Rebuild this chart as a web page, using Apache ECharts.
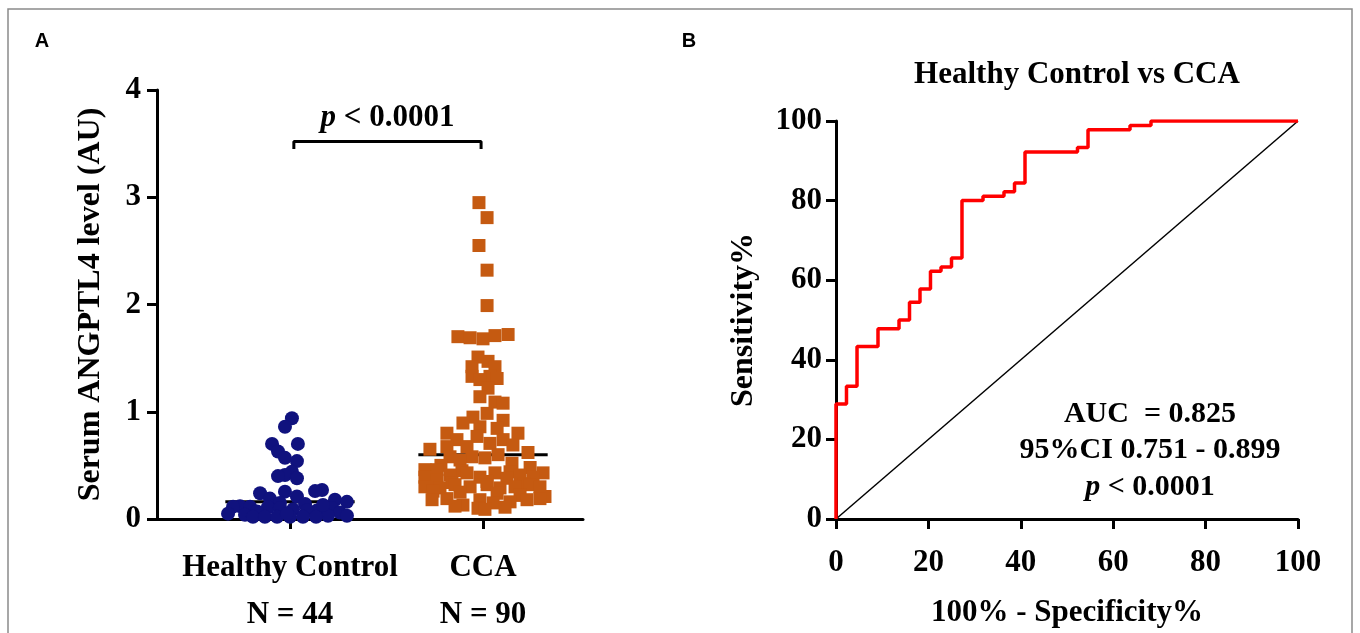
<!DOCTYPE html>
<html><head><meta charset="utf-8">
<script src="https://cdn.jsdelivr.net/npm/echarts@6/dist/echarts.min.js"></script>
<style>html,body{margin:0;padding:0;background:#fff}#c{width:1360px;height:633px}</style>
</head><body><div id="c"></div>
<script>
// ---------- Panel A data ----------
const groups = ['Healthy Control', 'CCA'];
const groupN = [44, 90];
const groupPos = [1, 2];
const hcValues = [0.94,0.86,0.70,0.70,0.63,0.57,0.54,0.44,0.41,0.40,0.38,0.27,0.26,0.255,0.24,0.21,0.19,0.18,0.16,0.15,0.14,0.12,0.115,0.115,0.11,0.10,0.10,0.09,0.08,0.08,0.07,0.06,0.05,0.04,0.03,0.03,0.02,0.02,0.02,0.02,0.02,0.02,0.13,0.05];
const hcOffsets = [0.01,-0.026,-0.093,0.041,-0.062,-0.026,0.036,0.01,-0.026,-0.062,0.036,0.166,0.13,-0.026,-0.155,0.036,-0.104,0.233,0.295,-0.052,0.078,-0.259,-0.295,-0.207,-0.114,0.218,-0.052,0.016,0.14,0.088,-0.171,0.259,-0.321,-0.233,0.295,0.197,-0.192,-0.13,-0.067,0,0.067,0.135,0.171,-0.016];
const ccaValues = [2.95,2.81,2.55,2.32,1.99,1.70,1.69,1.68,1.71,1.72,1.51,1.47,1.42,1.42,1.33,1.33,1.31,1.30,1.22,1.14,1.09,1.08,0.985,0.95,0.92,0.895,0.86,0.845,0.80,0.80,0.77,0.74,0.74,0.705,0.69,0.675,0.675,0.65,0.62,0.60,0.58,0.58,0.57,0.55,0.52,0.50,0.48,0.46,0.46,0.45,0.44,0.43,0.43,0.43,0.41,0.41,0.39,0.39,0.39,0.38,0.36,0.35,0.34,0.33,0.32,0.32,0.32,0.30,0.30,0.30,0.30,0.29,0.29,0.26,0.25,0.24,0.22,0.21,0.19,0.19,0.18,0.18,0.18,0.16,0.15,0.13,0.12,0.11,0.10,0.09];
const ccaOffsets = [-0.021,0.021,-0.021,0.021,0.021,-0.13,-0.067,0,0.062,0.13,-0.026,0.026,-0.057,0.062,-0.057,0.036,0.073,-0.016,0.026,-0.016,0.062,0.104,0.021,-0.052,0.104,-0.104,-0.016,0.073,-0.187,0.181,-0.031,-0.135,0.104,0.036,0.155,-0.187,-0.083,-0.275,0.233,0.078,-0.171,-0.057,0.01,-0.119,0.15,-0.218,0.244,-0.301,-0.238,-0.109,0.14,-0.083,0.062,0.311,-0.171,0.192,-0.301,-0.016,0.259,0.124,-0.238,0.021,-0.161,0.212,-0.145,0.021,0.244,-0.301,-0.067,0.166,0.295,-0.223,0.088,-0.259,-0.119,0.073,0.192,0.321,-0.187,0.295,-0.264,-0.016,0.228,0.14,0.052,-0.104,-0.145,0.114,-0.026,0.01];
const groupMeans = [0.16, 0.60];
const meanHalfWidth = 0.335;
const bracketX = [1.02, 1.99];
const bracketY = [3.45, 3.52];
const pLabel = 'p < 0.0001';
const yTicksA = [0, 1, 2, 3, 4];

// ---------- Panel B data ----------
const rocTitle = 'Healthy Control vs CCA';
const rocFpr = [0, 0, 2.27, 4.55, 9.09, 13.64, 15.91, 18.18, 20.45, 22.73, 25.00, 27.27, 31.82, 36.36, 38.64, 40.91, 52.27, 54.55, 63.64, 68.18, 100];
const rocTpr = [0, 28.89, 33.33, 43.33, 47.78, 50.00, 54.44, 57.78, 62.22, 63.33, 65.56, 80.00, 81.11, 82.22, 84.44, 92.22, 93.33, 97.78, 98.89, 100, 100];
const xTicksB = [0, 20, 40, 60, 80, 100];
const aucLines = ['AUC  = 0.825', '95%CI 0.751 - 0.899', 'p < 0.0001'];

const FONT = '"Liberation Serif", "Times New Roman", serif';
const BLACK = '#000';

const chart = echarts.init(document.getElementById('c'), null, {renderer: 'canvas'});

function pRich(s) {
  return s.replace(/^p /, '{i|p} ');
}

const option = {
  animation: false,
  backgroundColor: '#fff',
  grid: [
    {left: 157, top: 90, width: 426, height: 429},
    {left: 836, top: 121, width: 462, height: 399}
  ],
  xAxis: [
    {
      gridIndex: 0, type: 'value', min: 0.311, max: 2.518,
      splitLine: {show: false},
      axisLine: {show: true, onZero: false, lineStyle: {color: BLACK, width: 3}},
      axisTick: {show: true, customValues: groupPos, length: 10, lineStyle: {color: BLACK, width: 3}},
      axisLabel: {
        show: true, customValues: groupPos, margin: 25,
        formatter: function (v) {
          const i = groupPos.indexOf(Math.round(v));
          return '{a|' + groups[i] + '}\n{b|N = ' + groupN[i] + '}';
        },
        rich: {
          a: {fontFamily: FONT, fontWeight: 'bold', fontSize: 31, color: BLACK, lineHeight: 47},
          b: {fontFamily: FONT, fontWeight: 'bold', fontSize: 31, color: BLACK, lineHeight: 47}
        }
      }
    },
    {
      gridIndex: 1, type: 'value', min: 0, max: 100, interval: 20,
      splitLine: {show: false},
      axisLine: {show: true, onZero: false, lineStyle: {color: BLACK, width: 3}},
      axisTick: {show: true, length: 10, lineStyle: {color: BLACK, width: 3}},
      axisLabel: {margin: 28, fontFamily: FONT, fontWeight: 'bold', fontSize: 31, color: BLACK},
      name: '100% - Specificity%', nameLocation: 'middle', nameGap: 78,
      nameTextStyle: {fontFamily: FONT, fontWeight: 'bold', fontSize: 31, color: BLACK}
    }
  ],
  yAxis: [
    {
      gridIndex: 0, type: 'value', min: 0, max: 4, interval: 1,
      splitLine: {show: false},
      axisLine: {show: true, onZero: false, lineStyle: {color: BLACK, width: 3}},
      axisTick: {show: true, length: 10, lineStyle: {color: BLACK, width: 3}},
      axisLabel: {margin: 16, fontFamily: FONT, fontWeight: 'bold', fontSize: 31, color: BLACK},
      name: 'Serum ANGPTL4 level (AU)', nameLocation: 'middle', nameGap: 50,
      nameTextStyle: {fontFamily: FONT, fontWeight: 'bold', fontSize: 32, color: BLACK}
    },
    {
      gridIndex: 1, type: 'value', min: 0, max: 100, interval: 20,
      splitLine: {show: false},
      axisLine: {show: true, onZero: false, lineStyle: {color: BLACK, width: 3}},
      axisTick: {show: true, length: 10, lineStyle: {color: BLACK, width: 3}},
      axisLabel: {margin: 14, fontFamily: FONT, fontWeight: 'bold', fontSize: 31, color: BLACK},
      name: 'Sensitivity%', nameLocation: 'middle', nameGap: 76,
      nameTextStyle: {fontFamily: FONT, fontWeight: 'bold', fontSize: 32, color: BLACK}
    }
  ],
  series: [
    {
      type: 'line', xAxisIndex: 0, yAxisIndex: 0, symbol: 'none', z: 1,
      data: [[groupPos[0] - meanHalfWidth, groupMeans[0]], [groupPos[0] + meanHalfWidth, groupMeans[0]]],
      lineStyle: {color: BLACK, width: 3}
    },
    {
      type: 'line', xAxisIndex: 0, yAxisIndex: 0, symbol: 'none', z: 1,
      data: [[groupPos[1] - meanHalfWidth, groupMeans[1]], [groupPos[1] + meanHalfWidth, groupMeans[1]]],
      lineStyle: {color: BLACK, width: 3}
    },
    {
      type: 'scatter', xAxisIndex: 0, yAxisIndex: 0, z: 3,
      symbol: 'circle', symbolSize: 14,
      itemStyle: {color: '#10127e', opacity: 1},
      data: hcValues.map((v, i) => [groupPos[0] + hcOffsets[i], v])
    },
    {
      type: 'scatter', xAxisIndex: 0, yAxisIndex: 0, z: 3,
      symbol: 'rect', symbolSize: 13,
      itemStyle: {color: '#c55a11', opacity: 1},
      data: ccaValues.map((v, i) => [groupPos[1] + ccaOffsets[i], v])
    },
    {
      type: 'line', xAxisIndex: 0, yAxisIndex: 0, symbol: 'none', z: 2,
      data: [[bracketX[0], bracketY[0]], [bracketX[0], bracketY[1]], [bracketX[1], bracketY[1]], [bracketX[1], bracketY[0]]],
      lineStyle: {color: BLACK, width: 3}
    },
    {
      type: 'line', xAxisIndex: 1, yAxisIndex: 1, symbol: 'none', z: 2,
      data: [[0, 0], [100, 100]],
      lineStyle: {color: BLACK, width: 1.5}
    },
    {
      type: 'line', xAxisIndex: 1, yAxisIndex: 1, symbol: 'none', z: 3,
      step: 'end',
      data: rocFpr.map((x, i) => [x, rocTpr[i]]),
      lineStyle: {color: '#ff0000', width: 3.5}
    }
  ],
  graphic: [
    {type: 'rect', shape: {x: 8, y: 9, width: 1344, height: 640}, style: {fill: 'none', stroke: '#8a8a8a', lineWidth: 1.5}, silent: true},
    {type: 'text', x: 42, y: 41, style: {text: 'A', font: 'bold 20px "Liberation Sans", Arial, sans-serif', fill: BLACK, align: 'center', verticalAlign: 'middle'}},
    {type: 'text', x: 689, y: 41, style: {text: 'B', font: 'bold 20px "Liberation Sans", Arial, sans-serif', fill: BLACK, align: 'center', verticalAlign: 'middle'}},
    {type: 'text', x: 1077, y: 75, style: {text: rocTitle, font: 'bold 31px ' + FONT, fill: BLACK, align: 'center', verticalAlign: 'middle'}},
    {type: 'text', x: 1150, y: 414, style: {text: aucLines[0], font: 'bold 30px ' + FONT, fill: BLACK, align: 'center', verticalAlign: 'middle'}},
    {type: 'text', x: 1150, y: 450, style: {text: aucLines[1], font: 'bold 30px ' + FONT, fill: BLACK, align: 'center', verticalAlign: 'middle'}},
    {type: 'text', x: 1150, y: 487, style: {
      text: pRich(aucLines[2]), font: 'bold 30px ' + FONT, fill: BLACK, align: 'center', verticalAlign: 'middle',
      rich: {i: {font: 'italic bold 30px ' + FONT, fill: BLACK}}
    }}
  ]
};
chart.setOption(option);

// p-value label above the bracket, placed through the axis scale
const pPix = chart.convertToPixel({xAxisIndex: 0, yAxisIndex: 0}, [(bracketX[0] + bracketX[1]) / 2, bracketY[1]]);
chart.setOption({
  graphic: [{
    type: 'text', id: 'pval', x: pPix[0], y: pPix[1] - 23,
    style: {
      text: pRich(pLabel), font: 'bold 31px ' + FONT, fill: BLACK, align: 'center', verticalAlign: 'middle',
      rich: {i: {font: 'italic bold 31px ' + FONT, fill: BLACK}}
    }
  }]
});
</script>
</body></html>
